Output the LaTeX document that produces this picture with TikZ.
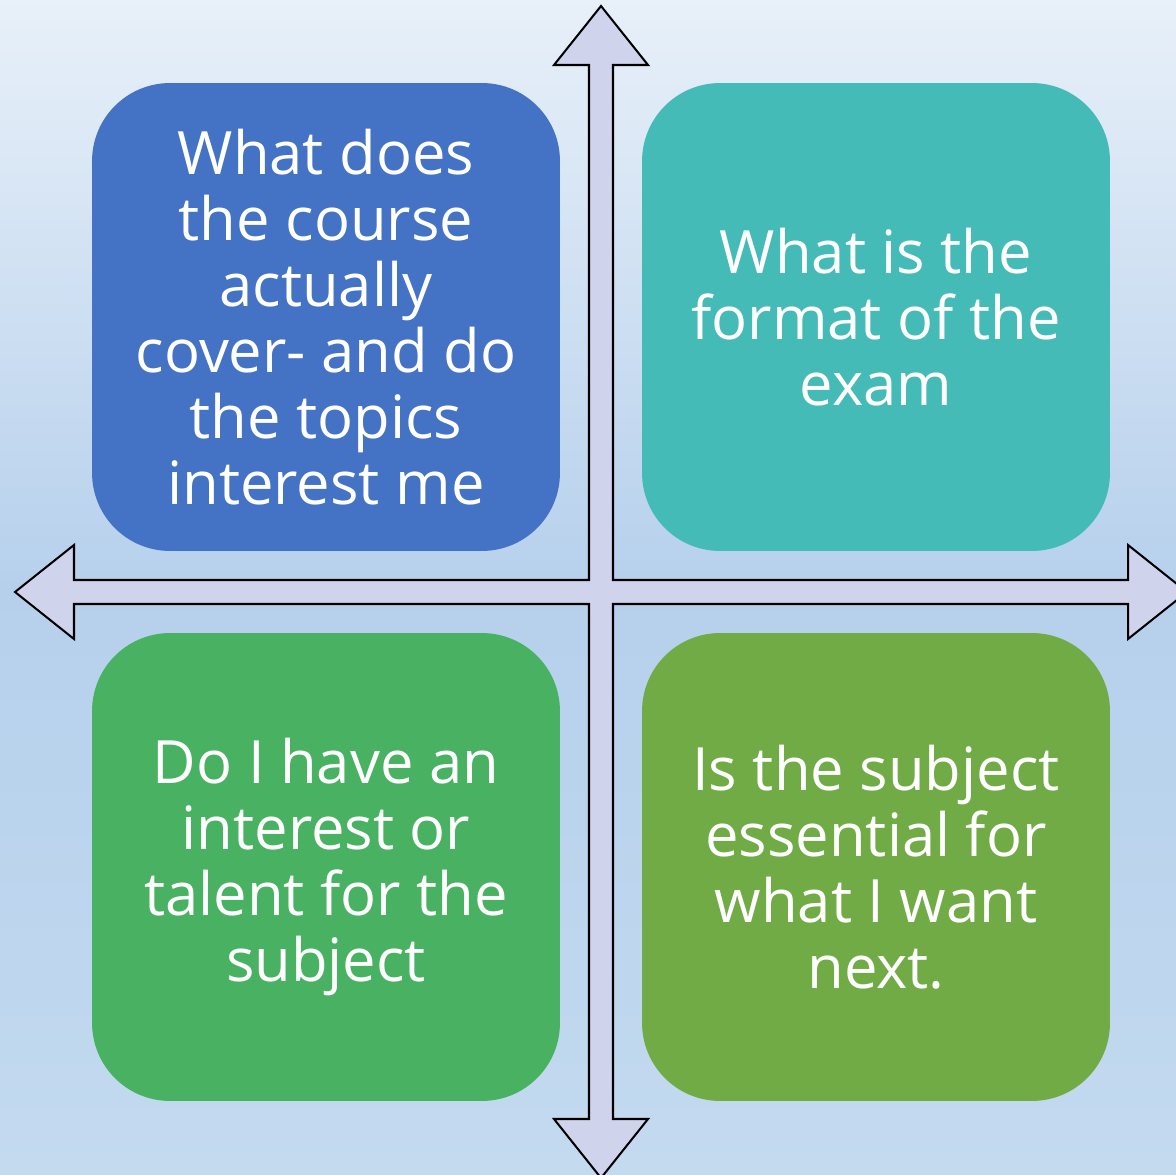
\documentclass[tikz,border=0pt]{standalone}
\usepackage{fontspec}
\setmainfont{Open Sans}
\usetikzlibrary{positioning}
\definecolor{bgtop}{HTML}{E8F0F9}
\definecolor{bgmid}{HTML}{B6D0EC}
\definecolor{bgbot}{HTML}{C3DAEF}
\definecolor{crossfill}{HTML}{CFD3EC}
\definecolor{qblue}{HTML}{4472C4}
\definecolor{qteal}{HTML}{45BBB8}
\definecolor{qgreen}{HTML}{48B262}
\definecolor{qolive}{HTML}{70AB46}

\begin{document}
\begin{tikzpicture}[x=0.02cm, y=-0.02cm,
                    quad/.style={rounded corners=1.56cm, minimum width=9.36cm, minimum height=9.36cm, inner sep=0pt,
                                 align=center, text=white, font=\fontsize{34}{37.6}\selectfont},
                    cross/.style={draw=black, line width=1.15pt, fill=crossfill, line join=miter}]
    \useasboundingbox (0,0) rectangle (1176,1175);
    \clip (0,0) rectangle (1176,1175);
    \shade[top color=bgtop, bottom color=bgbot, middle color=bgmid] (0,0) rectangle (1176,1175);
    % four-way arrow
    \draw[cross] (601,6) -- (648,65) -- (613,65) -- (613,580) -- (1128,580) -- (1128,545) -- (1187,592)
        -- (1128,639) -- (1128,604) -- (613,604) -- (613,1119) -- (648,1119) -- (601,1178)
        -- (554,1119) -- (589,1119) -- (589,604) -- (74,604) -- (74,639) -- (15,592)
        -- (74,545) -- (74,580) -- (589,580) -- (589,65) -- (554,65) -- cycle;
    % quadrants
    \node[quad, fill=qblue] (course) at (326,317) {What does\\the course\\actually\\cover- and do\\the topics\\interest me};
    \node[quad, fill=qteal] (format) at (876,317) {What is the\\format of the\\exam};
    \node[quad, fill=qgreen] (talent) at (326,867) {Do I have an\\interest or\\talent for the\\subject};
    \node[quad, fill=qolive] (essential) at (876,867) {Is the subject\\essential for\\what I want\\next.};
\end{tikzpicture}
\end{document}
